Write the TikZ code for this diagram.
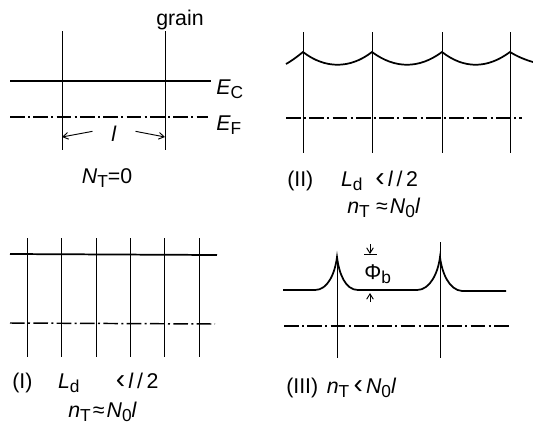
\documentclass[tikz,border=0pt]{standalone}
\usepackage{fontspec}
\setmainfont{Liberation Sans}
\usetikzlibrary{arrows.meta}
\newcommand\lsub[1]{\raisebox{-0.35ex}{\fontsize{13}{13}\selectfont #1}}
\newcommand\lessmark{{\fontsize{21}{21}\selectfont ‹}}
\begin{document}
\begin{tikzpicture}[x=0.75pt,y=-0.75pt,
  grainline/.style={line width=0.75pt},
  band/.style={line width=1.3pt},
  fermi/.style={line width=1.1pt,dash pattern=on 11pt off 2.5pt on 1.5pt off 2.5pt},
  lbl/.style={inner sep=0pt,font=\fontsize{16}{18}\selectfont},
  dimarrow/.style={line width=0.7pt,-{Straight Barb[length=4pt,width=5pt]}}]
\useasboundingbox (0,0) rectangle (533,426);
% ---------- panel N_T = 0 ----------
\draw[grainline] (62,31) -- (62,150);
\draw[grainline] (165,31) -- (165,150);
\draw[band] (10,81) -- (211,81);
\draw[fermi] (10,117) -- (208,117);
\node[lbl] (grain) at (180,20) {grain};
\node[lbl,anchor=west] (ec) at (216,89) {\textit{E}\lsub{C}};
\node[lbl,anchor=west] (ef) at (216,125) {\textit{E}\lsub{F}};
\node[lbl] (ell) at (114,134) {\textit{l}};
\coordinate (al) at (62,137);
\coordinate (ar) at (165,137);
\draw[dimarrow] (ell.west) ++(-14pt,2pt) coordinate (alstart) -- (al);
\draw[dimarrow] (ell.east) ++(14pt,2pt) coordinate (arstart) -- (ar);
\node[lbl] (nt0) at (107,178) {\textit{N}\lsub{T}=0};
% ---------- panel II ----------
\foreach \x in {303,372,442,510} \draw[grainline] (\x,32) -- (\x,153);
\draw[band] (286,64) .. controls (293,60) and (298,56) .. (303,52)
  .. controls (325,69) and (350,69) .. (372,52)
  .. controls (395,69) and (419,69) .. (442,52)
  .. controls (464,69) and (487,69) .. (510,52)
  .. controls (518,57) and (526,60) .. (533,62);
\draw[fermi] (286,118) -- (522,118);
\node[lbl,anchor=west] (l2) at (287,181) {(II)\hspace{1.3em}\textit{L}\lsub{d}\hspace{0.6em}\lessmark\hspace{0.15em}\textit{l}\,/\,2};
\node[lbl,anchor=west] (n2) at (347,208) {\textit{n}\lsub{T}\hspace{0.3em}≈\hspace{0.1em}\textit{N}\lsub{0}\textit{l}};
% ---------- panel I ----------
\foreach \x in {27,61,96,130,164,199} \draw[grainline] (\x,238) -- (\x,357);
\draw[band] (10,254) -- (217,255);
\draw[fermi] (10,323) -- (215,324);
\node[lbl,anchor=west] (l1) at (12,383) {(I)\hspace{1.2em}\textit{L}\lsub{d}\hspace{1.7em}\lessmark\hspace{0.15em}\textit{l}\,/\,2};
\node[lbl,anchor=west] (n1) at (68,412) {\textit{n}\lsub{T}\hspace{0.1em}≈\hspace{0.1em}\textit{N}\lsub{0}\textit{l}};
% ---------- panel III ----------
\draw[grainline] (337,257) -- (337,358);
\draw[grainline] (440,242) -- (440,358);
\draw[band] (283,290) -- (315,290)
  .. controls (328,290) and (335,273) .. (337,257)
  .. controls (339,273) and (345,290) .. (358,290) -- (417,290)
  .. controls (430,290) and (438,273) .. (440,257)
  .. controls (442,273) and (449,290) .. (462,291) -- (506,291);
\draw[fermi] (284,326) -- (510,326);
\coordinate (pt) at (370,254);
\coordinate (pb) at (370,293);
\draw[line width=0.7pt] (364,254) -- (377,254);
\draw[dimarrow] (370,244) -- (pt);
\draw[dimarrow] (370,302) -- (pb);
\node[lbl,anchor=west] (phib) at (364,274) {Φ\lsub{b}};
\node[lbl,anchor=west] (l3) at (286,388) {(III)\hspace{0.4em}\textit{n}\lsub{T}\hspace{0.2em}\lessmark\hspace{0.15em}\textit{N}\lsub{0}\textit{l}};
\end{tikzpicture}
\end{document}
